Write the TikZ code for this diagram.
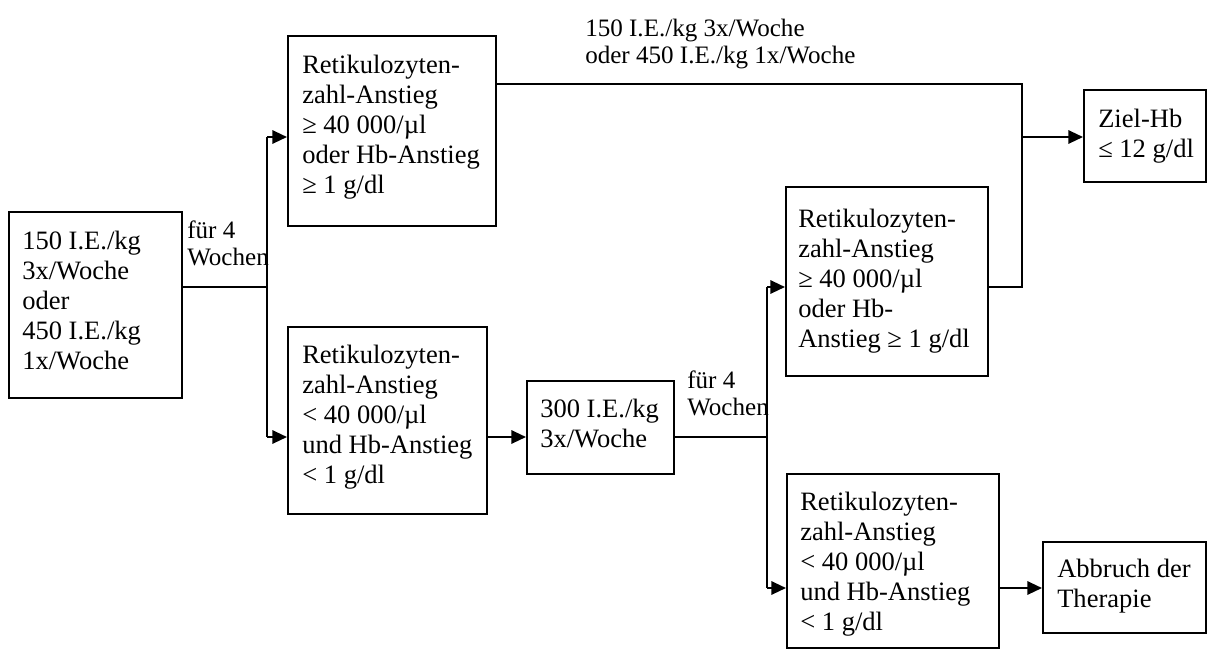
\documentclass[tikz,border=0pt]{standalone}
\usepackage{fontspec}
\setmainfont{Liberation Serif}
\usetikzlibrary{arrows.meta,fit}
\newcommand{\mainfs}{\fontsize{19.9}{22.5}\selectfont}
\newcommand{\labfs}{\fontsize{18.8}{20.5}\selectfont}
\tikzset{
  box/.style={draw, line width=1.5pt, inner sep=0pt},
  txt/.style={anchor=north west, inner sep=0pt, align=left, font=\mainfs},
  lab/.style={anchor=north west, inner sep=0pt, align=left, font=\labfs},
  conn/.style={line width=1.6pt},
  arr/.style={line width=1.6pt, -{Triangle[length=11pt,width=10pt]}},
}
\begin{document}
\begin{tikzpicture}[x=0.75pt,y=-0.75pt]
\useasboundingbox (0,0) rectangle (1214,651);
% boxes
\node[box, fit={(9,212) (182,398)}] (A) {};
\node[box, fit={(288,36) (496,226)}] (B) {};
\node[box, fit={(288,327) (487,514)}] (C) {};
\node[box, fit={(527,381) (674,474)}] (P) {};
\node[box, fit={(786,187) (988,376)}] (D) {};
\node[box, fit={(787,474) (999,648)}] (E) {};
\node[box, fit={(1084,90) (1206,182)}] (Z) {};
\node[box, fit={(1043,542) (1206,633)}] (X) {};
% texts
\node[txt] (At) at (22,228) {\strut 150 I.E./kg\\3x/Woche\\oder\\450 I.E./kg\\1x/Woche};
\node[txt] (Bt) at (302,52) {\strut Retikulozyten-\\zahl-Anstieg\\≥ 40 000/µl\\oder Hb-Anstieg\\≥ 1 g/dl};
\node[txt] (Ct) at (302,342) {\strut Retikulozyten-\\zahl-Anstieg\\< 40 000/µl\\und Hb-Anstieg\\< 1 g/dl};
\node[txt] (Pt) at (540,396) {\strut 300 I.E./kg\\3x/Woche};
\node[txt] (Dt) at (798,206) {\strut Retikulozyten-\\zahl-Anstieg\\≥ 40 000/µl\\oder Hb-\\Anstieg ≥ 1 g/dl};
\node[txt] (Et) at (800,489) {\strut Retikulozyten-\\zahl-Anstieg\\< 40 000/µl\\und Hb-Anstieg\\< 1 g/dl};
\node[txt] (Zt) at (1098,106) {\strut Ziel-Hb\\≤ 12 g/dl};
\node[txt] (Xt) at (1057,556) {\strut Abbruch der\\Therapie};
% labels
\node[lab] (L0) at (585,17) {\strut 150 I.E./kg 3x/Woche\\oder 450 I.E./kg 1x/Woche};
\node[lab] (L1) at (187,219) {\strut für 4\\Wochen};
\node[lab] (L2) at (687,369) {\strut für 4\\Wochen};
% junctions
\coordinate (j1) at (267,287);
\coordinate (j1t) at (267,137);
\coordinate (j1b) at (267,437);
\coordinate (j2) at (767,437);
\coordinate (j2t) at (767,287);
\coordinate (j2b) at (767,588);
\coordinate (j3t) at (1022,84);
\coordinate (j3m) at (1022,137);
\coordinate (j3b) at (1022,287);
\coordinate (ab) at (1020,588);
% connectors
\draw[conn] (A.east |- j1) -- (j1);
\draw[conn] (j1t) -- (j1b);
\draw[arr] (j1t) -- (B.west |- j1t);
\draw[arr] (j1b) -- (C.west |- j1b);
\draw[arr] (C.east |- j1b) -- (P.west |- j1b);
\draw[conn] (P.east |- j2) -- (j2);
\draw[conn] (j2t) -- (j2b);
\draw[arr] (j2t) -- (D.west |- j2t);
\draw[arr] (j2b) -- (E.west |- j2b);
\draw[conn, line width=2.2pt] (B.east |- j3t) -- (j3t) -- (j3b) -- (D.east |- j3b);
\draw[arr] (j3m) -- (Z.west |- j3m);
\draw[arr] (E.east |- ab) -- (X.west |- ab);
\end{tikzpicture}
\end{document}
